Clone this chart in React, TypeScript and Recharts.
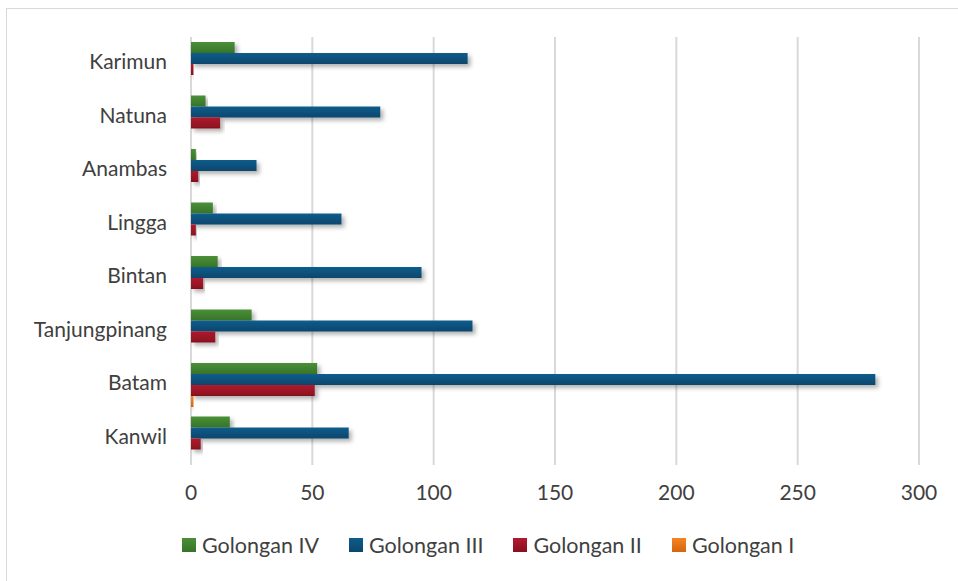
import React from "react";
import {
  BarChart,
  Bar,
  XAxis,
  YAxis,
  CartesianGrid,
  Legend,
} from "recharts";

const regions = [
  "Karimun",
  "Natuna",
  "Anambas",
  "Lingga",
  "Bintan",
  "Tanjungpinang",
  "Batam",
  "Kanwil",
];
const golonganIV = [18, 6, 2, 9, 11, 25, 52, 16];
const golonganIII = [114, 78, 27, 62, 95, 116, 282, 65];
const golonganII = [1, 12, 3, 2, 5, 10, 51, 4];
const golonganI = [0, 0, 0, 0, 0, 0, 1, 0];
const xTicks = [0, 50, 100, 150, 200, 250, 300];

const data = regions.map((name, i) => ({
  name,
  iv: golonganIV[i],
  iii: golonganIII[i],
  ii: golonganII[i],
  i: golonganI[i],
}));

const SERIES = [
  { key: "iv", label: "Golongan IV", top: "#4a9038", bottom: "#377428", grad: "gIV" },
  { key: "iii", label: "Golongan III", top: "#0f5d8c", bottom: "#0a466c", grad: "gIII" },
  { key: "ii", label: "Golongan II", top: "#b21a2e", bottom: "#87101f", grad: "gII" },
  { key: "i", label: "Golongan I", top: "#f58523", bottom: "#d5650f", grad: "gI" },
];

const FONT = "Lato, 'Open Sans', sans-serif";
const TEXT = "#404040";

function LegendContent() {
  return (
    <div
      style={{
        display: "flex",
        alignItems: "center",
        fontFamily: FONT,
        fontSize: 21.5,
        color: TEXT,
        height: 28,
        paddingLeft: 182,
      }}
    >
      {SERIES.map((s, idx) => (
        <div
          key={s.key}
          style={{ display: "flex", alignItems: "center", marginRight: idx < SERIES.length - 1 ? 30 : 0 }}
        >
          <span
            style={{
              display: "inline-block",
              width: 14,
              height: 14,
              marginRight: 6,
              background: `linear-gradient(${s.top}, ${s.bottom})`,
            }}
          />
          {s.label}
        </div>
      ))}
    </div>
  );
}

export default function App() {
  return (
    <div style={{ position: "absolute", left: 0, top: 0, width: 958, height: 581, background: "#fff", overflow: "hidden" }}>
      <div
        style={{
          position: "absolute",
          left: 6,
          top: 8,
          width: 980,
          height: 600,
          borderLeft: "1px solid #d9d9d9",
          borderTop: "1px solid #d9d9d9",
        }}
      />
      <BarChart
        width={958}
        height={581}
        data={data}
        layout="vertical"
        margin={{ top: 37, right: 39, left: 0, bottom: 41 }}
        barGap={0}
        barSize={11}
        style={{ position: "absolute", left: 0, top: 0 }}
      >
        <defs>
          {SERIES.map((s) => (
            <linearGradient key={s.grad} id={s.grad} x1="0" y1="0" x2="0" y2="1">
              <stop offset="0%" stopColor={s.top} />
              <stop offset="100%" stopColor={s.bottom} />
            </linearGradient>
          ))}
          <filter id="shadow" x="-5%" y="-30%" width="120%" height="190%">
            <feDropShadow dx="3" dy="3" stdDeviation="2" floodColor="#000" floodOpacity="0.3" />
          </filter>
        </defs>
        <CartesianGrid horizontal={false} stroke="#d9d9d9" strokeWidth={2} />
        <XAxis
          type="number"
          domain={[0, 300]}
          ticks={xTicks}
          axisLine={false}
          tickLine={false}
          tickSize={0}
          tickMargin={20}
          height={47}
          tick={{ fill: TEXT, fontSize: 21, fontFamily: FONT }}
        />
        <YAxis
          type="category"
          dataKey="name"
          width={191}
          axisLine={false}
          tickLine={false}
          tickSize={0}
          tickMargin={24}
          tick={{ fill: TEXT, fontSize: 21, fontFamily: FONT, dy: -2 }}
        />
        <Legend
          verticalAlign="bottom"
          content={<LegendContent />}
          wrapperStyle={{ top: 531, left: 0, width: 958 }}
        />
        {SERIES.map((s) => (
          <Bar
            key={s.key}
            dataKey={s.key}
            name={s.label}
            fill={`url(#${s.grad})`}
            filter="url(#shadow)"
            isAnimationActive={false}
          />
        ))}
      </BarChart>
    </div>
  );
}
